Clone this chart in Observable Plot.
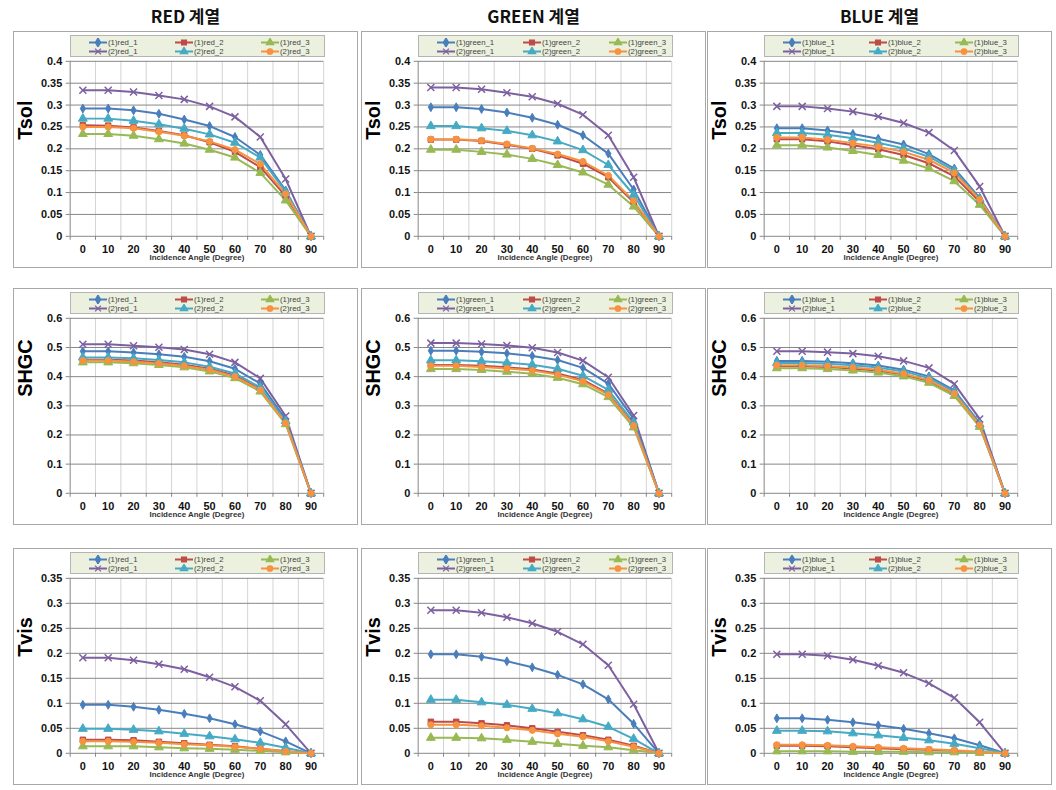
<!DOCTYPE html>
<html>
<head>
<meta charset="utf-8">
<script src="https://cdn.jsdelivr.net/npm/d3@7"></script>
<script src="https://cdn.jsdelivr.net/npm/@observablehq/plot@0.6"></script>
<style>
  html, body { margin: 0; padding: 0; background: #fff; }
  body { width: 1056px; height: 790px; position: relative; overflow: hidden; font-family: "Liberation Sans", Arial, sans-serif; }
  .coltitle { position: absolute; top: 4px; width: 345px; height: 24px; line-height: 24px; text-align: center;
    font-family: "Noto Sans CJK KR", "Noto Sans", sans-serif; font-weight: bold; font-size: 17px; color: #111; }
  .panel { position: absolute; width: 345px; height: 237px; box-sizing: border-box; border: 1px solid #a8a8a8; background: #fff; }
  .panel svg.chart { position: absolute; left: -1px; top: -1px; }
  .legend { position: absolute; left: 56px; top: 3px; width: 255px; height: 22px; box-sizing: border-box;
    background: #ebf1de; border: 1px solid #b4b4b4; }
  .entry { position: absolute; height: 10px; display: flex; align-items: center; white-space: nowrap;
    font-family: "Liberation Sans", Arial, sans-serif; font-size: 7.8px; color: #444; }
  .entry svg { margin-right: 1px; }
</style>
</head>
<body>
<script>
// ---------- data ----------
const angles = [0, 10, 20, 30, 40, 50, 60, 70, 80, 90];
const families = ["red", "green", "blue"];
const familyTitles = ["RED 계열", "GREEN 계열", "BLUE 계열"];
const metrics = ["Tsol", "SHGC", "Tvis"];
const metricMax = [0.4, 0.6, 0.35];
const metricStep = [0.05, 0.1, 0.05];
// series order: (1)_1, (1)_2, (1)_3, (2)_1, (2)_2, (2)_3
const seriesGroups = [1, 1, 1, 2, 2, 2];
const seriesNums = [1, 2, 3, 1, 2, 3];
const seriesColors = ["#4a7ebb", "#be4b48", "#98b954", "#7d60a0", "#46aac5", "#f69240"];
const seriesSymbols = ["diamond", "square", "triangle", "times", "triangle", "circle"];

const redTsol = [
  [0.292, 0.292, 0.288, 0.280, 0.267, 0.252, 0.227, 0.186, 0.105, 0],
  [0.254, 0.253, 0.249, 0.241, 0.231, 0.215, 0.193, 0.158, 0.092, 0],
  [0.234, 0.234, 0.230, 0.222, 0.212, 0.198, 0.180, 0.145, 0.082, 0],
  [0.334, 0.334, 0.330, 0.322, 0.313, 0.297, 0.273, 0.227, 0.131, 0],
  [0.269, 0.269, 0.264, 0.256, 0.246, 0.233, 0.214, 0.180, 0.102, 0],
  [0.250, 0.250, 0.247, 0.239, 0.230, 0.217, 0.198, 0.165, 0.097, 0]
];
const greenTsol = [
  [0.295, 0.295, 0.291, 0.283, 0.271, 0.255, 0.231, 0.189, 0.107, 0],
  [0.221, 0.221, 0.218, 0.209, 0.200, 0.185, 0.166, 0.135, 0.078, 0],
  [0.198, 0.198, 0.193, 0.187, 0.177, 0.163, 0.146, 0.118, 0.068, 0],
  [0.340, 0.340, 0.336, 0.328, 0.319, 0.303, 0.278, 0.231, 0.135, 0],
  [0.252, 0.252, 0.247, 0.241, 0.231, 0.217, 0.197, 0.163, 0.095, 0],
  [0.222, 0.222, 0.219, 0.211, 0.201, 0.188, 0.171, 0.139, 0.081, 0]
];
const blueTsol = [
  [0.247, 0.247, 0.242, 0.234, 0.223, 0.210, 0.188, 0.155, 0.088, 0],
  [0.222, 0.222, 0.217, 0.208, 0.199, 0.186, 0.167, 0.137, 0.079, 0],
  [0.208, 0.208, 0.203, 0.195, 0.186, 0.173, 0.155, 0.126, 0.072, 0],
  [0.297, 0.297, 0.292, 0.285, 0.274, 0.259, 0.237, 0.196, 0.114, 0],
  [0.236, 0.236, 0.232, 0.224, 0.214, 0.201, 0.182, 0.150, 0.085, 0],
  [0.226, 0.226, 0.221, 0.213, 0.205, 0.193, 0.175, 0.145, 0.084, 0]
];
const redSHGC = [
  [0.487, 0.487, 0.483, 0.477, 0.468, 0.453, 0.427, 0.376, 0.254, 0],
  [0.458, 0.458, 0.455, 0.449, 0.441, 0.427, 0.404, 0.357, 0.243, 0],
  [0.449, 0.449, 0.446, 0.440, 0.432, 0.418, 0.395, 0.349, 0.237, 0],
  [0.511, 0.511, 0.506, 0.501, 0.493, 0.477, 0.449, 0.394, 0.265, 0],
  [0.466, 0.466, 0.463, 0.457, 0.449, 0.434, 0.411, 0.363, 0.248, 0],
  [0.455, 0.455, 0.451, 0.445, 0.437, 0.424, 0.400, 0.354, 0.241, 0]
];
const greenSHGC = [
  [0.489, 0.489, 0.485, 0.480, 0.471, 0.457, 0.430, 0.376, 0.255, 0],
  [0.440, 0.440, 0.437, 0.432, 0.425, 0.411, 0.389, 0.342, 0.235, 0],
  [0.426, 0.426, 0.423, 0.417, 0.410, 0.396, 0.374, 0.330, 0.226, 0],
  [0.515, 0.515, 0.512, 0.507, 0.499, 0.483, 0.455, 0.398, 0.267, 0],
  [0.456, 0.456, 0.453, 0.448, 0.441, 0.427, 0.403, 0.355, 0.243, 0],
  [0.437, 0.437, 0.433, 0.428, 0.421, 0.407, 0.384, 0.338, 0.232, 0]
];
const blueSHGC = [
  [0.454, 0.454, 0.451, 0.446, 0.438, 0.424, 0.401, 0.353, 0.241, 0],
  [0.436, 0.436, 0.433, 0.428, 0.420, 0.407, 0.385, 0.339, 0.232, 0],
  [0.429, 0.429, 0.426, 0.421, 0.414, 0.401, 0.379, 0.334, 0.228, 0],
  [0.487, 0.487, 0.484, 0.479, 0.470, 0.454, 0.430, 0.375, 0.255, 0],
  [0.447, 0.447, 0.444, 0.439, 0.431, 0.418, 0.395, 0.348, 0.237, 0],
  [0.439, 0.439, 0.436, 0.431, 0.424, 0.410, 0.388, 0.342, 0.234, 0]
];
const redTvis = [
  [0.097, 0.097, 0.093, 0.087, 0.079, 0.070, 0.058, 0.044, 0.024, 0],
  [0.027, 0.027, 0.026, 0.023, 0.020, 0.017, 0.014, 0.009, 0.004, 0],
  [0.014, 0.014, 0.014, 0.012, 0.010, 0.009, 0.007, 0.005, 0.002, 0],
  [0.191, 0.191, 0.186, 0.178, 0.168, 0.152, 0.133, 0.105, 0.058, 0],
  [0.049, 0.049, 0.047, 0.044, 0.039, 0.034, 0.028, 0.021, 0.011, 0],
  [0.024, 0.024, 0.023, 0.021, 0.018, 0.016, 0.013, 0.009, 0.004, 0]
];
const greenTvis = [
  [0.198, 0.198, 0.193, 0.184, 0.172, 0.157, 0.138, 0.108, 0.059, 0],
  [0.063, 0.063, 0.060, 0.056, 0.050, 0.043, 0.036, 0.027, 0.015, 0],
  [0.031, 0.031, 0.030, 0.027, 0.023, 0.019, 0.015, 0.012, 0.006, 0],
  [0.286, 0.286, 0.281, 0.272, 0.260, 0.243, 0.218, 0.176, 0.098, 0],
  [0.107, 0.107, 0.102, 0.097, 0.089, 0.080, 0.068, 0.053, 0.029, 0],
  [0.057, 0.057, 0.055, 0.051, 0.046, 0.039, 0.033, 0.024, 0.013, 0]
];
const blueTvis = [
  [0.070, 0.070, 0.067, 0.062, 0.056, 0.049, 0.040, 0.030, 0.016, 0],
  [0.015, 0.015, 0.014, 0.012, 0.010, 0.008, 0.007, 0.005, 0.002, 0],
  [0.004, 0.004, 0.004, 0.003, 0.003, 0.003, 0.002, 0.002, 0.001, 0],
  [0.198, 0.198, 0.195, 0.187, 0.175, 0.161, 0.140, 0.111, 0.062, 0],
  [0.045, 0.045, 0.044, 0.040, 0.036, 0.031, 0.026, 0.019, 0.010, 0],
  [0.017, 0.017, 0.016, 0.014, 0.012, 0.010, 0.008, 0.006, 0.003, 0]
];

const panelData = [
  [redTsol, greenTsol, blueTsol],
  [redSHGC, greenSHGC, blueSHGC],
  [redTvis, greenTvis, blueTvis]
];

// ---------- layout ----------
const colLeft = [13, 361, 707];
const rowTop = [31, 288, 548];
const PW = 345, PH = 237;
const axisColor = "#868686";
const gridColor = "#d4d4d4";
const symbolTypes = { diamond: d3.symbolDiamond, square: d3.symbolSquare, triangle: d3.symbolTriangle, times: d3.symbolTimes, circle: d3.symbolCircle };
const symbolRadius = { diamond: 2.7, square: 3.1, triangle: 3.3, times: 3.3, circle: 3.1 };

const fmt = d => d === 0 ? "0" : String(+d.toFixed(2));
const seriesName = (fam, i) => `(${seriesGroups[i]})${fam}_${seriesNums[i]}`;

families.forEach((fam, c) => {
  const t = document.createElement("div");
  t.className = "coltitle";
  t.style.left = colLeft[c] + "px";
  t.textContent = familyTitles[c];
  document.body.appendChild(t);
});

metrics.forEach((metric, r) => {
  const max = metricMax[r], step = metricStep[r];
  const yTicks = d3.range(0, Math.round(max / step) + 1).map(i => +(i * step).toFixed(3));
  const bounds = [-5, ...angles.map(a => a + 5)];
  families.forEach((fam, c) => {
    const series = panelData[r][c];
    const rows = [];
    series.forEach((vals, i) => vals.forEach((v, k) => rows.push({
      angle: angles[k], value: v, series: seriesName(fam, i), si: i
    })));

    const panel = document.createElement("div");
    panel.className = "panel";
    panel.style.left = colLeft[c] + "px";
    panel.style.top = rowTop[r] + "px";

    // one line + one dot mark per series, drawn in series order (later on top)
    const seriesMarks = [];
    series.forEach((vals, i) => {
      const sub = rows.filter(d => d.si === i);
      seriesMarks.push(Plot.line(sub, { x: "angle", y: "value", stroke: seriesColors[i], strokeWidth: 2 }));
    });
    series.forEach((vals, i) => {
      const sub = rows.filter(d => d.si === i);
      const sym = seriesSymbols[i];
      seriesMarks.push(Plot.dot(sub, { x: "angle", y: "value", symbol: sym,
        fill: sym === "times" ? "none" : seriesColors[i], stroke: seriesColors[i],
        strokeWidth: sym === "times" ? 1.5 : 1, r: symbolRadius[sym] }));
    });

    const chart = Plot.plot({
      width: PW, height: PH,
      marginLeft: 57, marginRight: 33, marginTop: 30, marginBottom: 31,
      x: { type: "linear", domain: [-5, 95] },
      y: { type: "linear", domain: [0, max] },
      style: { fontFamily: "'Liberation Sans', Arial, sans-serif", background: "transparent", overflow: "visible", color: "#111" },
      marks: [
        Plot.ruleX(bounds.slice(1), { stroke: gridColor, strokeWidth: 1 }),
        Plot.ruleY(yTicks.slice(1), { stroke: axisColor, strokeWidth: 1 }),
        Plot.ruleX([-5], { stroke: axisColor, strokeWidth: 1 }),
        Plot.ruleY([0], { stroke: axisColor, strokeWidth: 1 }),
        Plot.axisX(bounds, { tickSize: 4, tickFormat: () => "", stroke: axisColor, label: null }),
        Plot.axisX(angles, { tickSize: 0, tickPadding: 9, fontSize: 11, fontWeight: "bold", label: null }),
        Plot.axisY(yTicks, { tickSize: 4, tickPadding: 4, tickFormat: fmt, stroke: axisColor, fontSize: 11, fontWeight: "bold", label: null }),
        Plot.text(["Incidence Angle (Degree)"], { frameAnchor: "bottom", dy: 24, fontSize: 8, fill: "#333", fontWeight: "bold" }),
        Plot.text([metric], { frameAnchor: "left", rotate: -90, dx: -45, dy: -9, fontSize: 20, fontWeight: "bold", fill: "#000" }),
        ...seriesMarks
      ]
    });
    chart.classList.add("chart");
    panel.appendChild(chart);

    // legend (above the plot area, inside the chart box)
    const legend = document.createElement("div");
    legend.className = "legend";
    seriesColors.forEach((col, i) => {
      const e = document.createElement("div");
      e.className = "entry";
      e.style.left = (18 + (i % 3) * 86) + "px";
      e.style.top = (1 + Math.floor(i / 3) * 9.5) + "px";
      const s = d3.create("svg").attr("width", 18).attr("height", 9);
      s.append("line").attr("x1", 0).attr("x2", 18).attr("y1", 4.5).attr("y2", 4.5).attr("stroke", col).attr("stroke-width", 2);
      const sym = seriesSymbols[i];
      s.append("path").attr("transform", "translate(9,4.5)")
        .attr("d", d3.symbol(symbolTypes[sym], 24)())
        .attr("fill", sym === "times" ? "none" : col).attr("stroke", col).attr("stroke-width", 1.2);
      e.appendChild(s.node());
      const span = document.createElement("span");
      span.textContent = seriesName(fam, i);
      e.appendChild(span);
      legend.appendChild(e);
    });
    panel.appendChild(legend);
    document.body.appendChild(panel);
  });
});
</script>
</body>
</html>
